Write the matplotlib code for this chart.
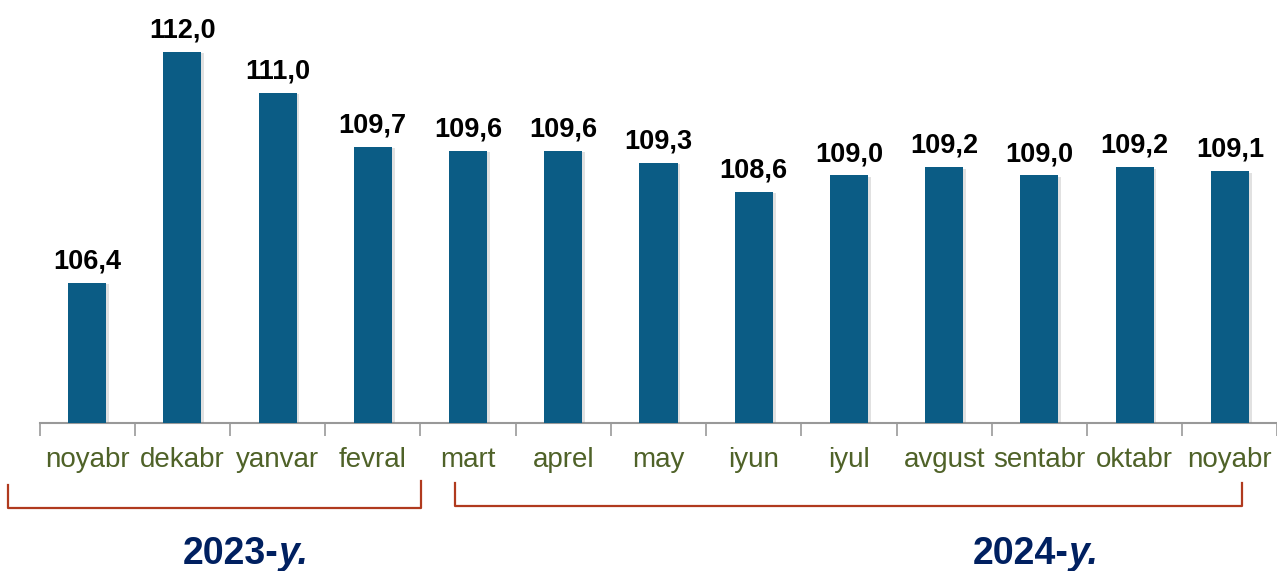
import matplotlib.pyplot as plt
from matplotlib.lines import Line2D
import matplotlib.patheffects as pe

plt.rcParams['font.family'] = ['Liberation Sans', 'DejaVu Sans']

months = ['noyabr', 'dekabr', 'yanvar', 'fevral', 'mart', 'aprel', 'may',
          'iyun', 'iyul', 'avgust', 'sentabr', 'oktabr', 'noyabr']
values = [106.4, 112.0, 111.0, 109.7, 109.6, 109.6, 109.3,
          108.6, 109.0, 109.2, 109.0, 109.2, 109.1]
years = ['2023', '2024']

W, H = 1277, 571
fig = plt.figure(figsize=(W / 100, H / 100), dpi=100)
ax = fig.add_axes([39.5 / W, 148 / H, 1238 / W, 423 / H])

x = list(range(len(months)))
bars = ax.bar(x, values, width=0.4, bottom=0, color='#0b5c85', zorder=3)
for b in bars:
    b.set_path_effects([pe.SimplePatchShadow(offset=(2, -1), shadow_rgbFace='#888888', alpha=0.25),
                        pe.Normal()])

for xi, v in zip(x, values):
    ax.annotate(f'{v:.1f}'.replace('.', ','), (xi, v), xytext=(0, 6), textcoords='offset points',
                ha='center', va='bottom', fontsize=19.5, fontweight='bold', color='black')

ax.set_xlim(-0.5, len(months) - 0.5)
ax.set_ylim(103, 113.25)
ax.set_xticks(x)
ax.set_xticklabels(months, fontsize=20, color='#4f6228')
ax.set_xticks([i - 0.5 for i in range(len(months) + 1)], minor=True)
ax.tick_params(axis='x', which='major', length=0, pad=17)
ax.tick_params(axis='x', which='minor', length=9, width=1.2, color='#999999', direction='out')
ax.set_yticks([])
for s in ['top', 'right', 'left']:
    ax.spines[s].set_visible(False)
ax.spines['bottom'].set_color('#999999')
ax.spines['bottom'].set_linewidth(1.5)

# year brackets
bc = '#b03a1e'
def px(xp, yp):
    return xp / W, 1 - yp / H
for pts in ([(8, 485), (8, 508), (421, 508), (421, 481)],
            [(455, 483), (455, 506), (1242, 506), (1242, 483)]):
    xs, ys = zip(*[px(a, b) for a, b in pts])
    fig.add_artist(Line2D(xs, ys, color=bc, lw=1.6, transform=fig.transFigure))

# year captions: "2023-" bold, "y." bold italic
for yr, xsplit in zip(years, [279, 1069]):
    fig.text(xsplit / W, 1 - 564 / H, yr + '-', ha='right', va='baseline',
             fontsize=27, fontweight='bold', color='#002060')
    fig.text(xsplit / W, 1 - 564 / H, 'y.', ha='left', va='baseline',
             fontsize=27, fontweight='bold', style='italic', color='#002060')

fig.savefig('out.png', dpi=100)
